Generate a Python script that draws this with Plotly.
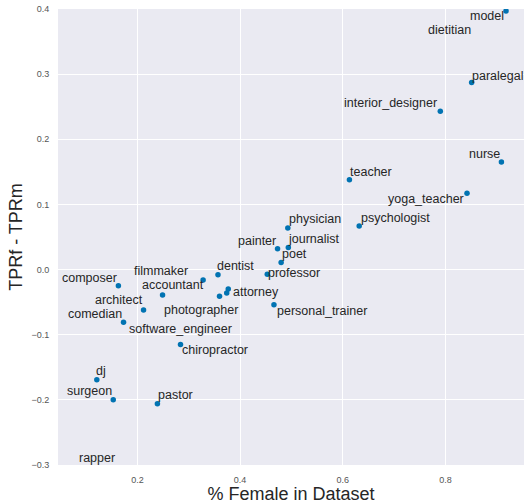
import plotly.graph_objects as go

jobs = ["model", "dietitian", "paralegal", "interior_designer", "nurse", "teacher",
        "yoga_teacher", "physician", "psychologist", "painter", "journalist", "poet",
        "professor", "dentist", "attorney", "accountant", "photographer",
        "personal_trainer", "filmmaker", "architect", "comedian", "composer",
        "software_engineer", "chiropractor", "dj", "surgeon", "pastor", "rapper"]
pct_female = [0.918, 0.930, 0.851, 0.790, 0.909, 0.613,
              0.842, 0.493, 0.632, 0.473, 0.494, 0.480,
              0.453, 0.357, 0.377, 0.374, 0.360,
              0.466, 0.328, 0.249, 0.212, 0.163,
              0.173, 0.284, 0.121, 0.153, 0.239, 0.096]
tpr_gap = [0.397, 0.450, 0.287, 0.243, 0.165, 0.138,
           0.117, 0.064, 0.067, 0.032, 0.034, 0.011,
           -0.007, -0.008, -0.030, -0.036, -0.041,
           -0.054, -0.016, -0.039, -0.062, -0.025,
           -0.081, -0.115, -0.169, -0.200, -0.206, -0.330]

x_range = [0.0454, 0.953]
y_range = [-0.3, 0.4]

# label offsets in pixels (dx right, dy up) relative to each point
label_dx = [-19, -63, 26, -50, -17, 22, -41, 27, 36, -21, 26, 13, 27, 18, 28, -54, -19,
            48, -42, -44, -49, -29, 57, 34, 4, -24, 18, 13]
label_dy = [-5, -54, 7, 8, 8, 8, -6, 9, 8, 8, 8, 8, 1, 9, -3, 8, -14,
            -6, 9, -5, -4, 8, -7, -6, 9, 9, 9, 27]

fig = go.Figure()
fig.add_trace(go.Scatter(
    x=pct_female, y=tpr_gap, mode="markers",
    marker=dict(color="#0173B2", size=5.5, line=dict(width=0)),
    hovertext=jobs, showlegend=False, cliponaxis=True,
))

label_font = dict(family="Liberation Sans, Arial, sans-serif", size=12.5, color="#262626")
for name, x, y, dx, dy in zip(jobs, pct_female, tpr_gap, label_dx, label_dy):
    if y_range[0] <= y <= y_range[1]:
        fig.add_annotation(x=x, y=y, text=name, showarrow=False,
                           xshift=dx, yshift=dy, xanchor="center", yanchor="middle",
                           font=label_font)
    else:
        # point lies outside the visible range: anchor the label in paper space
        yp = (y - y_range[0]) / (y_range[1] - y_range[0])
        fig.add_annotation(x=x, y=yp, xref="x", yref="paper", text=name, showarrow=False,
                           xshift=dx, yshift=dy, xanchor="center", yanchor="middle",
                           font=label_font)

axis_common = dict(
    showgrid=True, gridcolor="white", gridwidth=1, zeroline=False,
    showline=False, ticks="outside", ticklen=6, tickcolor="rgba(0,0,0,0)",
    tickfont=dict(family="Liberation Sans, Arial, sans-serif", size=9, color="#555555"),
)

fig.update_layout(
    width=524, height=504,
    margin=dict(l=58, r=0, t=9, b=39),
    paper_bgcolor="white", plot_bgcolor="#EAEAF2",
    font=dict(family="Liberation Sans, Arial, sans-serif", color="#262626"),
    xaxis=dict(range=x_range, tickvals=[0.2, 0.4, 0.6, 0.8],
               ticktext=["0.2", "0.4", "0.6", "0.8"],
               title=dict(text="% Female in Dataset", standoff=2,
                          font=dict(size=18, color="#262626")),
               automargin=False, **axis_common),
    yaxis=dict(range=y_range, tickvals=[-0.3, -0.2, -0.1, 0.0, 0.1, 0.2, 0.3, 0.4],
               ticktext=["\u22120.3", "\u22120.2", "\u22120.1", "0.0", "0.1", "0.2", "0.3", "0.4"],
               title=dict(text="TPRf - TPRm", standoff=4,
                          font=dict(size=18, color="#262626")),
               automargin=False, **axis_common),
)

fig.write_html("out.html", config={"displayModeBar": False},
               post_script="document.body.style.margin='0';document.body.style.overflow='hidden';")
